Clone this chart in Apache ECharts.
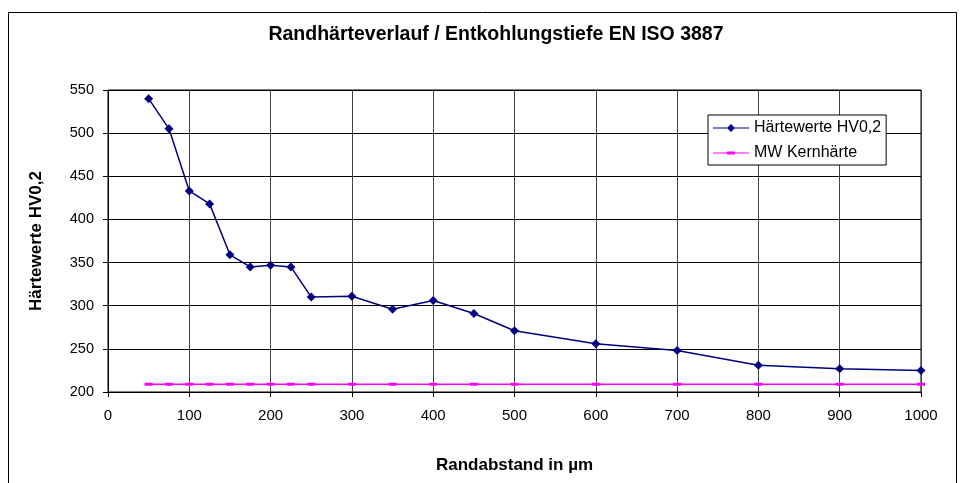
<!DOCTYPE html>
<html><head><meta charset="utf-8">
<script src="https://cdn.jsdelivr.net/npm/echarts@6/dist/echarts.min.js"></script>
<style>html,body{margin:0;padding:0;background:#fff}#c{width:961px;height:483px}</style>
</head><body><div id="c"></div>
<script>
const distances = [50,75,100,125,150,175,200,225,250,300,350,400,450,500,600,700,800,900,1000];
const hardness = [540,505,433,418,359,345,347,345,310,311,296,306,291,271,256,248,231,227,225];
const coreHardness = [209,209,209,209,209,209,209,209,209,209,209,209,209,209,209,209,209,209,209];
const xTicks = [0,100,200,300,400,500,600,700,800,900,1000];
const yTicks = [200,250,300,350,400,450,500,550];

const chart = echarts.init(document.getElementById('c'), null, {renderer:'canvas'});
const font = 'Liberation Sans, Arial, sans-serif';
chart.setOption({
  animation:false,
  backgroundColor:'#fff',
  title:{text:'Randhärteverlauf / Entkohlungstiefe EN ISO 3887', left:491, top:20, textAlign:'center',
    textStyle:{fontFamily:font, fontSize:19.5, fontWeight:'bold', color:'#000'}},
  graphic:[{type:'rect', shape:{x:8.5,y:12.5,width:948,height:480}, style:{fill:'none', stroke:'#000', lineWidth:1}, silent:true}],
  legend:{
    left:708, top:115, orient:'vertical', itemGap:9, itemWidth:36, itemHeight:10,
    backgroundColor:'#fff', borderColor:'#000', borderWidth:1, padding:[5,5,4,5],
    textStyle:{fontFamily:font, fontSize:16, color:'#000'},
    data:[
      {name:'Härtewerte HV0,2', icon:'path://M0,4.4 L36,4.4 L36,5.6 L0,5.6 Z M18,1 L22,5 L18,9 L14,5 Z'},
      {name:'MW Kernhärte', icon:'path://M0,4.4 L36,4.4 L36,5.6 L0,5.6 Z M14,3.5 L22,3.5 L22,6.5 L14,6.5 Z'}
    ]
  },
  grid:{left:108, right:40, top:90, bottom:91, show:true, borderColor:'#000', borderWidth:1},
  xAxis:{type:'value', min:0, max:1000, interval:100,
    name:'Randabstand in µm', nameLocation:'middle', nameGap:65,
    nameTextStyle:{fontFamily:font, fontSize:17, fontWeight:'bold', color:'#000'},
    axisLine:{lineStyle:{color:'#000'}}, axisTick:{show:true, length:5, lineStyle:{color:'#000'}},
    axisLabel:{fontFamily:font, fontSize:15, color:'#000', margin:16, formatter:v=>String(v)},
    splitLine:{show:true, lineStyle:{color:'#404040', width:1}}},
  yAxis:{type:'value', min:200, max:550, interval:50,
    name:'Härtewerte HV0,2', nameLocation:'middle', nameGap:63, nameRotate:90,
    nameTextStyle:{fontFamily:font, fontSize:17, fontWeight:'bold', color:'#000'},
    axisLine:{show:true, lineStyle:{color:'#000'}}, axisTick:{show:true, length:5, lineStyle:{color:'#000'}},
    axisLabel:{fontFamily:font, fontSize:14.5, color:'#000', margin:14, formatter:v=>String(v)},
    splitLine:{show:true, lineStyle:{color:'#000', width:1}}},
  series:[
    {name:'Härtewerte HV0,2', type:'line', data:distances.map((d,i)=>[d,hardness[i]]),
      symbol:'diamond', symbolSize:9, itemStyle:{color:'#000080'}, lineStyle:{color:'#000080', width:1.5}, z:5},
    {name:'MW Kernhärte', type:'line', data:distances.map((d,i)=>[d,coreHardness[i]]),
      symbol:'rect', symbolSize:[8,3], itemStyle:{color:'#ff00ff'}, lineStyle:{color:'#ff00ff', width:1.5}, z:4}
  ]
});
</script></body></html>
